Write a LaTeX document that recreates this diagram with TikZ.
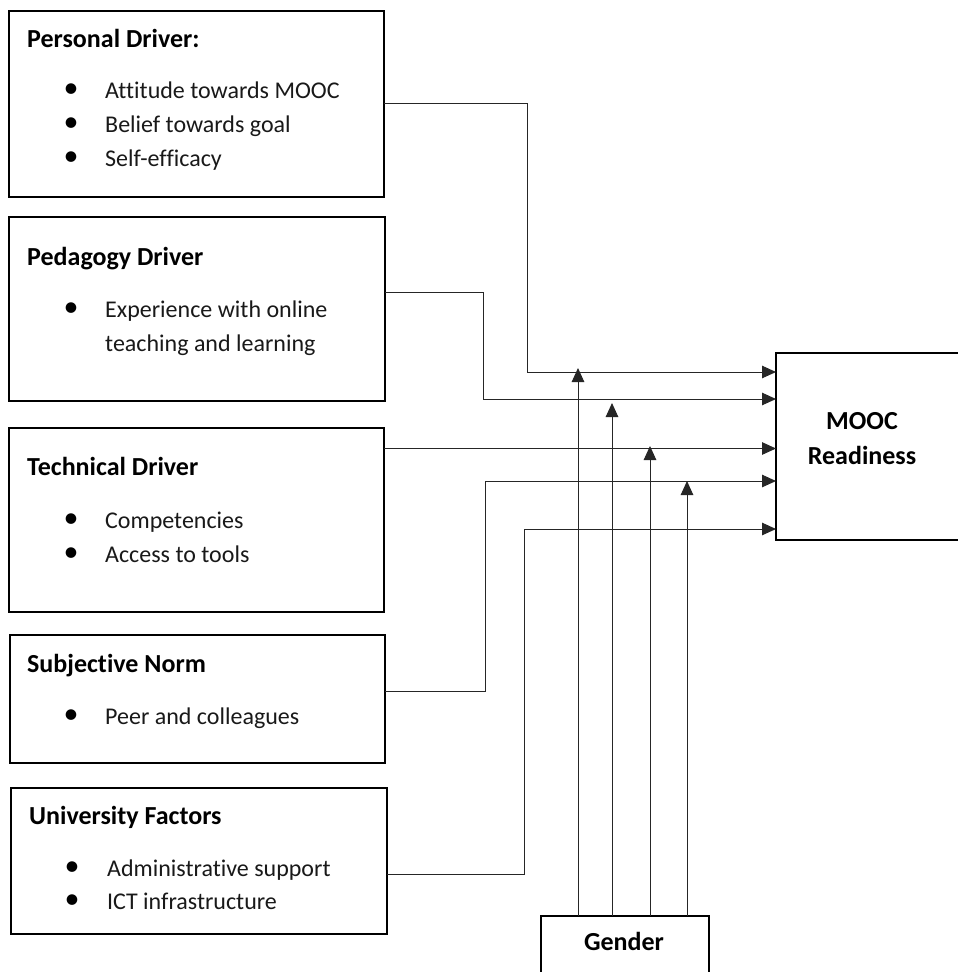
\documentclass[tikz,border=0pt]{standalone}
\usepackage{fontspec}
\setmainfont{Carlito}[Ligatures={NoCommon}]
\usetikzlibrary{arrows.meta}
\begin{document}
\begin{tikzpicture}[x=1pt,y=-1pt,
  box/.style={draw=black, line width=1.8pt, rectangle, inner sep=0pt, outer sep=0pt, anchor=north west},
  head/.style={font=\fontsize{26}{30}\selectfont\bfseries, anchor=base west, inner sep=0pt},
  cent/.style={font=\fontsize{26}{30}\selectfont\bfseries, anchor=base, inner sep=0pt},
  body/.style={font=\fontsize{24}{29}\selectfont, anchor=base west, inner sep=0pt, text=black!90},
  bul/.style={font=\fontsize{30}{34}\selectfont, anchor=center, inner sep=0pt},
  conn/.style={line width=1pt, draw=black!85},
  arr/.style={conn, -{Triangle[length=14pt,width=12.5pt]}}]
\useasboundingbox[fill=white] (0,0) rectangle (958,972);

% boxes
\node[box, minimum width=375pt, minimum height=186pt] (b1) at (9,11) {};
\node[box, minimum width=376pt, minimum height=184pt] (b2) at (9,217) {};
\node[box, minimum width=375pt, minimum height=184pt] (b3) at (9,428) {};
\node[box, minimum width=375pt, minimum height=128pt] (b4) at (10,635) {};
\node[box, minimum width=376pt, minimum height=146pt] (b5) at (11,788) {};
\node[box, minimum width=190pt, minimum height=187pt] (m) at (776,353) {};
\node[box, minimum width=168pt, minimum height=70pt] (g) at (541,916) {};

% texts
\node[head] (h1) at (27,47) {Personal Driver:};
\node[bul] (u11) at (71,91) {•};
\node[body] (t11) at (105,98) {Attitude towards MOOC};
\node[bul] (u12) at (71,125) {•};
\node[body] (t12) at (105,132) {Belief towards goal};
\node[bul] (u13) at (71,159) {•};
\node[body] (t13) at (105,166) {Self-efficacy};

\node[head] (h2) at (27,265) {Pedagogy Driver};
\node[bul] (u21) at (71,310) {•};
\node[body] (t21) at (105,317) {Experience with online};
\node[body] (t22) at (105,351) {teaching and learning};

\node[head] (h3) at (27,475) {Technical Driver};
\node[bul] (u31) at (71,521) {•};
\node[body] (t31) at (105,528) {Competencies};
\node[bul] (u32) at (71,555) {•};
\node[body] (t32) at (105,562) {Access to tools};

\node[head] (h4) at (27,672) {Subjective Norm};
\node[bul] (u41) at (71,717) {•};
\node[body] (t41) at (105,724) {Peer and colleagues};

\node[head] (h5) at (29,824) {University Factors};
\node[bul] (u51) at (72,869) {•};
\node[body] (t51) at (107,876) {Administrative support};
\node[bul] (u52) at (72,902) {•};
\node[body] (t52) at (107,909) {ICT infrastructure};

\node[cent] (mt1) at (862,429) {MOOC};
\node[cent] (mt2) at (862,464) {Readiness};
\node[cent] (gt) at (624,950) {Gender};

% connector coordinates
\coordinate (s1) at (0,103);
\coordinate (e1) at (527,372);
\coordinate (s2) at (0,292);
\coordinate (e2) at (483,399);
\coordinate (s3) at (0,448.5);
\coordinate (s4) at (0,691);
\coordinate (e4) at (485,481);
\coordinate (s5) at (0,874);
\coordinate (e5) at (524,529);

\draw[arr] (b1.east |- s1) -| (e1) -- (m.west |- e1);
\draw[arr] (b2.east |- s2) -| (e2) -- (m.west |- e2);
\draw[arr] (b3.east |- s3) -- (m.west |- s3);
\draw[arr] (b4.east |- s4) -| (e4) -- (m.west |- e4);
\draw[arr] (b5.east |- s5) -| (e5) -- (m.west |- e5);

% gender arrows
\coordinate (g1) at (578,368);
\coordinate (g2) at (612,403);
\coordinate (g3) at (650,446);
\coordinate (g4) at (687,481);
\draw[arr] (g.north -| g1) -- (g1);
\draw[arr] (g.north -| g2) -- (g2);
\draw[arr] (g.north -| g3) -- (g3);
\draw[arr] (g.north -| g4) -- (g4);
\end{tikzpicture}
\end{document}
